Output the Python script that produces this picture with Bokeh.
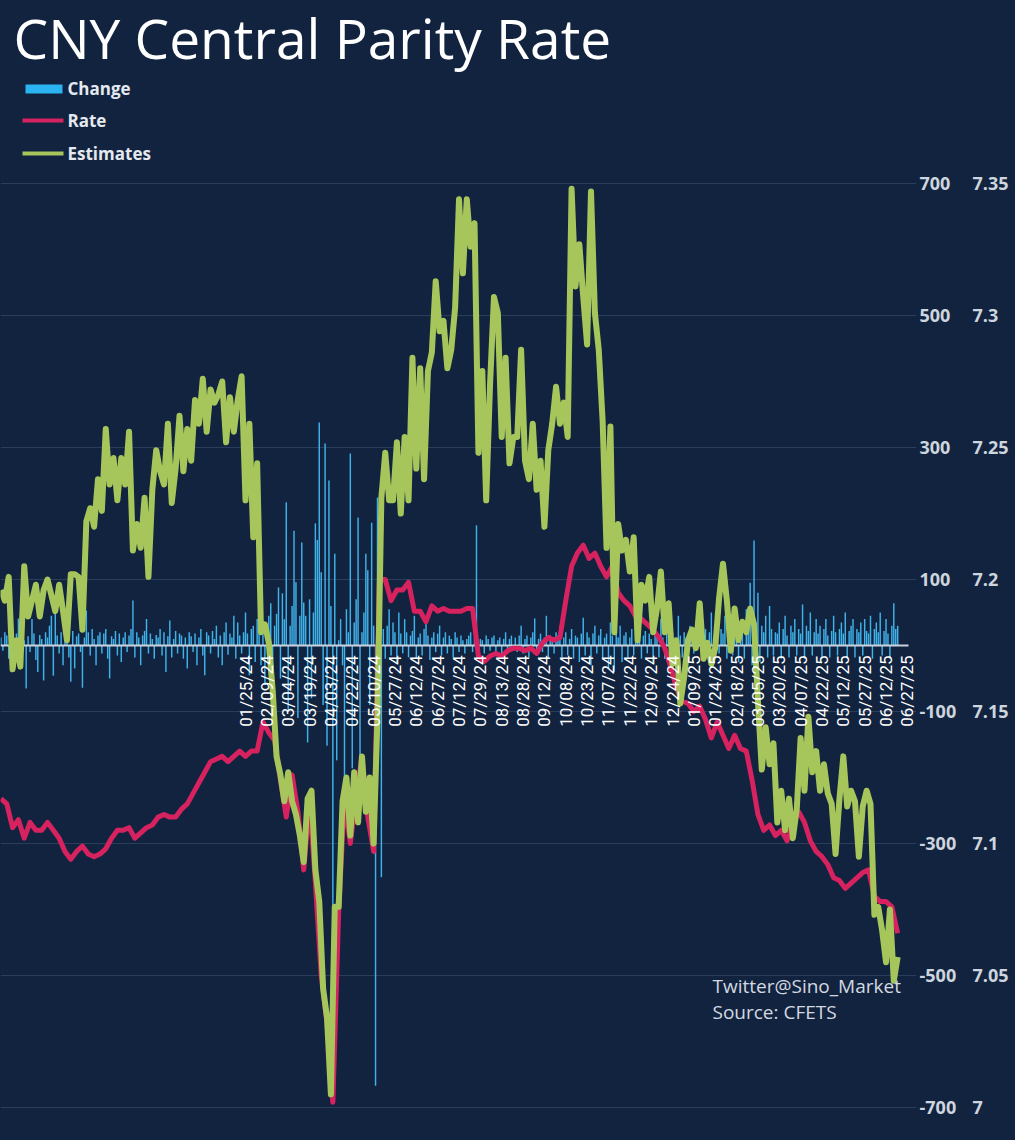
import math
from bokeh.plotting import figure
from bokeh.models import Range1d, LinearAxis, FixedTicker, Grid, LabelSet, ColumnDataSource
from bokeh.core.properties import value
from bokeh.embed import file_html
from bokeh.resources import INLINE

# ---------------- data ----------------
dates = ["01/25/24", "02/09/24", "03/04/24", "03/19/24", "04/03/24", "04/22/24",
         "05/10/24", "05/27/24", "06/12/24", "06/27/24", "07/12/24", "07/29/24",
         "08/13/24", "08/28/24", "09/12/24", "10/08/24", "10/23/24", "11/07/24",
         "11/22/24", "12/09/24", "12/24/24", "01/09/25", "01/24/25", "02/18/25",
         "03/05/25", "03/20/25", "04/07/25", "04/22/25", "05/12/25", "05/27/25",
         "06/12/25", "06/27/25"]
first_label_day = 126   # trading-day index of the first labelled date
label_every = 11        # trading days between labels

# Estimates: one value every 2nd trading day
est_step = 2
estimates = [7.196, 7.192, 7.201, 7.166, 7.177, 7.167, 7.205, 7.186, 7.192, 7.198,
             7.186, 7.196, 7.200, 7.194, 7.188, 7.198, 7.188, 7.177, 7.202, 7.202,
             7.201, 7.181, 7.222, 7.227, 7.220, 7.238, 7.226, 7.257, 7.236, 7.246,
             7.230, 7.246, 7.236, 7.256, 7.211, 7.221, 7.212, 7.231, 7.201, 7.234,
             7.249, 7.241, 7.236, 7.259, 7.229, 7.242, 7.262, 7.241, 7.257, 7.245,
             7.268, 7.259, 7.276, 7.256, 7.272, 7.267, 7.270, 7.275, 7.252, 7.269,
             7.256, 7.268, 7.277, 7.230, 7.259, 7.216, 7.244, 7.180, 7.183, 7.176,
             7.158, 7.133, 7.126, 7.116, 7.127, 7.116, 7.111, 7.103, 7.093, 7.117,
             7.120, 7.090, 7.078, 7.045, 7.034, 7.005, 7.076, 7.076, 7.116, 7.125,
             7.103, 7.127, 7.108, 7.133, 7.112, 7.125, 7.100, 7.148, 7.231, 7.248,
             7.230, 7.230, 7.252, 7.225, 7.254, 7.230, 7.284, 7.242, 7.280, 7.238,
             7.279, 7.286, 7.313, 7.294, 7.298, 7.280, 7.287, 7.303, 7.344, 7.316,
             7.344, 7.326, 7.335, 7.248, 7.279, 7.230, 7.274, 7.307, 7.301, 7.254,
             7.284, 7.244, 7.254, 7.254, 7.287, 7.245, 7.238, 7.259, 7.234, 7.245,
             7.220, 7.249, 7.259, 7.273, 7.259, 7.267, 7.254, 7.348, 7.311, 7.327,
             7.307, 7.289, 7.347, 7.301, 7.287, 7.260, 7.212, 7.258, 7.180, 7.221,
             7.211, 7.215, 7.203, 7.216, 7.177, 7.198, 7.192, 7.201, 7.180, 7.189,
             7.203, 7.180, 7.191, 7.168, 7.177, 7.153, 7.163, 7.177, 7.181, 7.174,
             7.191, 7.170, 7.176, 7.168, 7.174, 7.193, 7.206, 7.192, 7.173, 7.189,
             7.177, 7.184, 7.180, 7.189, 7.183, 7.154, 7.128, 7.144, 7.130, 7.138,
             7.108, 7.120, 7.105, 7.117, 7.102, 7.113, 7.140, 7.120, 7.148, 7.127,
             7.135, 7.120, 7.130, 7.119, 7.115, 7.096, 7.117, 7.133, 7.114, 7.120,
             7.116, 7.095, 7.114, 7.120, 7.115, 7.073, 7.076, 7.067, 7.055, 7.075,
             7.048, 7.057]

# Rate: one value every 3rd trading day
rate_step = 3
rate = [7.117, 7.115, 7.106, 7.109, 7.102, 7.108, 7.105, 7.105, 7.108, 7.105,
        7.102, 7.097, 7.094, 7.097, 7.099, 7.096, 7.095, 7.096, 7.098, 7.102,
        7.105, 7.105, 7.106, 7.102, 7.104, 7.106, 7.107, 7.110, 7.111, 7.110,
        7.110, 7.113, 7.115, 7.119, 7.123, 7.127, 7.131, 7.132, 7.133, 7.131,
        7.133, 7.135, 7.133, 7.135, 7.135, 7.146, 7.142, 7.139, 7.124, 7.110,
        7.126, 7.112, 7.090, 7.116, 7.085, 7.050, 7.032, 7.002, 7.074, 7.117,
        7.100, 7.118, 7.133, 7.110, 7.097, 7.200, 7.200, 7.192, 7.196, 7.196,
        7.199, 7.188, 7.188, 7.184, 7.190, 7.188, 7.189, 7.188, 7.188, 7.188,
        7.189, 7.189, 7.171, 7.169, 7.171, 7.172, 7.171, 7.173, 7.174, 7.174,
        7.173, 7.174, 7.172, 7.176, 7.178, 7.177, 7.178, 7.192, 7.205, 7.210,
        7.213, 7.208, 7.210, 7.205, 7.201, 7.205, 7.195, 7.192, 7.190, 7.186,
        7.185, 7.183, 7.181, 7.178, 7.174, 7.167, 7.159, 7.154, 7.153, 7.150,
        7.152, 7.147, 7.140, 7.146, 7.141, 7.136, 7.141, 7.136, 7.135, 7.124,
        7.111, 7.105, 7.107, 7.103, 7.105, 7.101, 7.108, 7.112, 7.108, 7.101,
        7.097, 7.095, 7.092, 7.087, 7.086, 7.083, 7.085, 7.087, 7.089, 7.090,
        7.080, 7.078, 7.078, 7.076, 7.066]

# Daily change (pips)
change = [12, -8, 20, 15, -20, 25, 10, -12, 18, 41,
          -15, 22, 8, -65, 14, -10, 40, 18, -22, -40,
          16, 10, -53, 20, 12, 30, 45, -46, 53, 15,
          -12, 20, -30, 25, 10, -18, -55, 22, -35, 14,
          18, -10, -64, 12, 53, 20, -15, 25, 10, -30,
          15, 20, -12, 18, 25, -20, -50, 14, 10, 22,
          -15, 18, -25, 12, 20, -10, 15, 25, 68, -18,
          20, 12, -30, 15, 22, 40, -12, 18, 10, -20,
          16, 12, 25, -15, 20, -40, 14, 38, -18, 10,
          22, -12, 18, 15, -20, 12, -35, 20, 14, -10,
          18, -30, 12, 25, -15, -45, 20, 15, -12, 22,
          10, 30, -18, 15, -30, 20, 35, -14, 18, 12,
          45, -20, 35, 15, -12, 20, 50, 18, -45, 25,
          30, -25, 40, 20, -30, 35, -60, 25, 45, 64,
          -40, 30, 48, 88, -50, 79, 40, 217, -100, 30,
          60, 174, 96, -110, 45, 156, 65, 45, -147, 70,
          -80, 50, 185, 160, 338, 111, -90, 306, -152, 250,
          60, -412, 139, -174, 8, 40, -30, -205, 55, 20,
          291, -186, 35, 70, 194, -179, 20, 50, 139, 114,
          -90, 186, 30, -667, 224, 40, -351, 25, -20, 30,
          55, -15, 35, 20, -25, 50, 18, -12, 40, 20,
          -18, 15, 22, 45, -20, 12, 18, -15, 25, 40,
          15, -22, 12, 20, -10, 18, 30, -15, 12, 20,
          -12, 15, 10, -18, 20, 12, -10, 15, 8, -12,
          10, 15, 20, -10, 12, 182, -15, 10, 8, -12,
          15, 10, -8, 12, 15, -10, 8, 12, -15, 10,
          20, -12, 10, 15, -8, 12, -10, 15, 30, -12,
          10, 15, -18, 12, 20, 41, -15, 10, 18, -10,
          12, 45, -20, 15, 10, -12, 20, 15, 30, -18,
          12, 20, -15, 10, 25, -20, 15, 12, -25, 18,
          42, -15, 20, 12, -30, 18, 30, -12, 15, 25,
          -20, 12, 18, -35, 35, 15, -40, 20, 12, 30,
          -25, 15, 20, -18, 12, 25, -15, 18, 10, 35,
          -20, 15, 22, -12, 18, 10, -25, 20, 15, -18,
          40, 12, -20, 18, 25, -15, 20, 12, -22, 45,
          15, -18, 20, 12, -25, 30, 18, -12, 22, 15,
          35, -20, 18, 25, -15, 20, 50, -18, 15, 22,
          -12, 25, 18, 45, -20, 15, 22, -15, 40, 20,
          -25, 30, 18, -20, 55, 25, 95, -30, 159, 35,
          80, -25, 30, 20, 45, -18, 60, 25, -15, 20,
          18, 35, -20, 25, 45, 15, -18, 30, 20, 40,
          -15, 25, 18, 62, -20, 30, 22, 50, -15, 20,
          40, 18, 30, -20, 25, 40, 15, -18, 22, 45,
          20, -15, 25, 35, 18, 50, -20, 22, 30, 40,
          -18, 25, 20, 35, -15, 40, 22, 18, 45, -20,
          25, 35, 20, 50, -15, 22, 40, 18, -20, 30,
          64, 25, 30]

change_ticks = [-700, -500, -300, -100, 100, 300, 500, 700]
change_tick_labels = ["-700", "-500", "-300", "-100", "100", "300", "500", "700"]
rate_ticks = [7.0, 7.05, 7.1, 7.15, 7.2, 7.25, 7.3, 7.35]
rate_tick_labels = ["7", "7.05", "7.1", "7.15", "7.2", "7.25", "7.3", "7.35"]

# ---------------- styling ----------------
BG = "#12233f"
GRID = "#2a3d5b"
BAR = "#3fb2ea"
RATE_C = "#d6225f"
EST_C = "#a6c65c"
TXT = "#e4e9ef"
AXTXT = "#cdd5de"

# page pixel -> data helpers (for placing the annotations only)
PX_PER_DAY = 1.941
X0_PX = 0.434
def X(px):
    return (px - X0_PX) / PX_PER_DAY
def Y(py):
    return (645 - py) * 200.0 / 132.0
def R(py):
    return 7.35 - (py - 183) / 2640.0

W, H = 1015, 1140
FRAME_RIGHT = 916
p = figure(width=W, height=H, output_backend="svg", toolbar_location=None,
           x_range=Range1d(X(0), X(FRAME_RIGHT)), y_range=Range1d(Y(H), Y(0)),
           x_axis_location=None, y_axis_location=None,
           min_border_left=0, min_border_top=0, min_border_bottom=0,
           min_border_right=W - FRAME_RIGHT,
           background_fill_color=BG, border_fill_color=BG,
           outline_line_color=None, title=None)
p.extra_y_ranges = {"rate": Range1d(R(H), R(0))}
p.xgrid.visible = False
p.ygrid.visible = False

p.add_layout(Grid(dimension=1, ticker=FixedTicker(ticks=change_ticks),
                  grid_line_color=GRID, grid_line_width=1))

axis_style = dict(axis_line_color=None, axis_line_alpha=0,
                  major_tick_line_color=None, minor_tick_line_color=None,
                  major_tick_out=0, major_tick_in=0,
                  major_label_text_color=AXTXT, major_label_text_font="Open Sans",
                  major_label_text_font_style="bold",
                  major_label_text_font_size="18px")
ax1 = LinearAxis(ticker=FixedTicker(ticks=change_ticks),
                 major_label_overrides=dict(zip(change_ticks, change_tick_labels)),
                 major_label_standoff=3, **axis_style)
p.add_layout(ax1, "right")
ax2 = LinearAxis(y_range_name="rate", ticker=FixedTicker(ticks=rate_ticks),
                 major_label_overrides=dict(zip(rate_ticks, rate_tick_labels)),
                 major_label_standoff=13, **axis_style)
p.add_layout(ax2, "right")

day_idx = list(range(len(change)))
est_idx = list(range(0, est_step * len(estimates), est_step))
rate_idx = list(range(0, rate_step * len(rate), rate_step))

p.vbar(x=day_idx, top=change, bottom=0, width=0.75, fill_color=BAR, line_color=None)
# zero (category) axis line
p.segment(x0=[X(0)], y0=[0], x1=[X(908)], y1=[0],
          line_color="#c9d3de", line_width=2)

p.line(x=rate_idx, y=rate, y_range_name="rate", line_color=RATE_C,
       line_width=5, line_join="round")
p.line(x=est_idx, y=estimates, y_range_name="rate", line_color=EST_C,
       line_width=6, line_join="round")

tick_idx = [first_label_day + label_every * k for k in range(len(dates))]
date_src = ColumnDataSource(dict(x=tick_idx, y=[Y(655)] * len(dates), text=dates))
p.add_layout(LabelSet(x="x", y="y", text="text", source=date_src,
                      angle=math.pi / 2, text_align="right",
                      text_baseline="middle", text_color="#ffffff",
                      text_font=value("Roboto"), text_font_size="17px"))

# title
p.text(x=[X(13)], y=[Y(37)], text=["CNY Central Parity Rate"],
       text_baseline="middle", text_align="left", text_color="#ffffff",
       text_font=value("Open Sans"), text_font_size="55px")

# legend
p.quad(left=[X(25)], right=[X(62)], top=[Y(84)], bottom=[Y(93)],
       fill_color="#2ab4f2", line_color=None)
p.segment(x0=[X(22), X(22)], y0=[Y(120), Y(153)], x1=[X(63), X(63)],
          y1=[Y(120), Y(153)], line_color=[RATE_C, EST_C], line_width=4)
p.text(x=[X(67)] * 3, y=[Y(88), Y(120), Y(153)],
       text=["Change", "Rate", "Estimates"], text_baseline="middle",
       text_color=TXT, text_font=value("Open Sans"), text_font_style="bold",
       text_font_size="17px")

# credits
p.text(x=[X(712)] * 2, y=[Y(985), Y(1011)],
       text=["Twitter@Sino_Market", "Source: CFETS"], text_baseline="middle",
       text_color="#d3d9e0", text_font=value("Open Sans"), text_font_size="19px")

html = file_html(p, INLINE, title="CNY Central Parity Rate")
html = html.replace("</head>", "<style>html, body {background-color: #12233f;}</style></head>", 1)
open("out.html", "w").write(html)
